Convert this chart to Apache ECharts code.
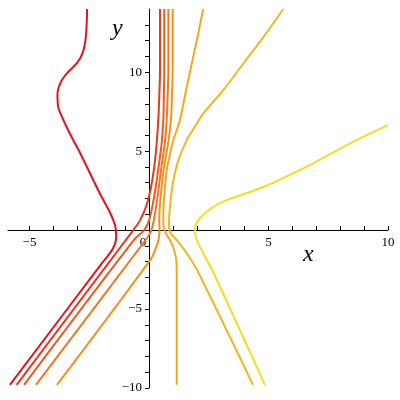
<!DOCTYPE html>
<html>
<head>
<meta charset="utf-8">
<script src="https://cdn.jsdelivr.net/npm/echarts@6/dist/echarts.min.js"></script>
<style>
  html, body { margin: 0; padding: 0; background: #fff; }
  #chart { width: 400px; height: 400px; }
</style>
</head>
<body>
<div id="chart"></div>
<script>
  // contour curves, red -> yellow, points as [x, y]
  var curve1 = [[-2.59, 14], [-2.61, 13], [-2.66, 12], [-2.78, 11.2], [-3.0, 10.6], [-3.39, 10], [-3.68, 9.4], [-3.83, 8.6], [-3.8, 7.8], [-3.65, 7.2], [-3.31, 6.1], [-2.89, 4.9], [-2.47, 3.6], [-2.05, 2.3], [-1.63, 1.1], [-1.42, 0.3], [-1.37, -0.4], [-1.52, -1.2], [-1.92, -2.0], [-5.82, -9.8]]
  var curve2 = [[0.46, 14], [0.46, 10], [0.43, 8.5], [0.39, 7], [0.32, 5.5], [0.22, 4], [0.07, 2.6], [-0.12, 1.5], [-0.38, 0.6], [-0.66, 0], [-1.2, -1.1], [-5.54, -9.8]]
  var curve3 = [[0.64, 14], [0.64, 10], [0.62, 8.5], [0.6, 7], [0.53, 5.5], [0.4, 4], [0.27, 2.6], [0.14, 1.5], [0.0, 0.6], [-0.2, 0], [-0.62, -0.6], [-5.23, -9.8]]
  var curve4 = [[0.81, 14], [0.81, 10], [0.78, 8.5], [0.74, 7], [0.66, 5.5], [0.52, 4], [0.4, 2.6], [0.3, 1.5], [0.2, 0.6], [0.1, 0], [-0.08, -0.5], [-4.73, -9.8]]
  var curve5 = [[0.99, 14], [0.99, 10], [0.96, 8.5], [0.92, 7], [0.8, 5.5], [0.63, 4], [0.52, 2.6], [0.45, 1.5], [0.43, 0.6], [0.44, 0], [0.4, -0.6], [0.27, -1.2], [0.05, -1.9], [-3.85, -9.8]]
  var curve6 = [[2.27, 14], [2.06, 12.45], [1.85, 10.97], [1.58, 9.07], [1.3, 7], [1.0, 5.6], [0.85, 4.6], [0.76, 4], [0.66, 2.6], [0.61, 1.5], [0.6, 0.6], [0.64, 0], [0.95, -0.84], [1.12, -1.7], [1.16, -2.6], [1.16, -9.8]]
  var curve7 = [[5.62, 14], [4.78, 12.2], [3.95, 10.55], [3.11, 8.86], [2.27, 7.38], [1.9, 6.5], [1.58, 5.7], [1.23, 4.43], [1.02, 3.16], [0.9, 1.8], [0.84, 0.6], [0.85, 0], [1.16, -0.63], [1.58, -1.47], [2.0, -2.5], [4.35, -9.8]]
  var curve8 = [[10, 6.65], [8.55, 5.6], [6.87, 4.23], [4.78, 2.73], [3.1, 1.8], [2.41, 1.16], [2.05, 0.6], [1.92, 0], [2.0, -0.63], [2.27, -1.47], [2.7, -2.7], [4.85, -9.8]]

  var curves = [curve1, curve2, curve3, curve4, curve5, curve6, curve7, curve8]
  var colors = ['#e3121c', '#e8381c', '#ec5a1c', '#ef781c', '#f2921c', '#f4a81c', '#f3b61e', '#f7dc1e']

  var xTickValues = [-5, -4, -3, -2, -1, 1, 2, 3, 4, 5, 6, 7, 8, 9, 10]
  var yTickValues = [-10, -9, -8, -7, -6, -5, -4, -3, -2, -1, 1, 2, 3, 4, 5, 6, 7, 8, 9, 10, 11, 12, 13]
  var xLabelValues = [-5, 0, 5, 10]
  var yLabelValues = [-10, -5, 5, 10]

  var font = '"Liberation Serif", "DejaVu Serif", serif'

  function fmt (v) {
    if (v === 0) return '{z|0}'
    return v < 0 ? '\u2212' + (-v) : String(v)
  }

  var series = curves.map(function (pts, i) {
    return {
      type: 'line',
      data: pts,
      smooth: 0.3,
      symbol: 'none',
      clip: true,
      silent: true,
      lineStyle: { color: colors[i], width: 2 }
    }
  })

  var chart = echarts.init(document.getElementById('chart'))
  chart.setOption({
    animation: false,
    backgroundColor: '#fff',
    title: [
      { text: 'x', left: 298, top: 238, textStyle: { fontFamily: font, fontStyle: 'italic', fontWeight: 'normal', fontSize: 24, color: '#000' } },
      { text: 'y', left: 107, top: 12, textStyle: { fontFamily: font, fontStyle: 'italic', fontWeight: 'normal', fontSize: 24, color: '#000' } }
    ],
    grid: { left: 8, right: 12, top: 9, bottom: 12, containLabel: false, outerBoundsMode: 'none' },
    xAxis: {
      type: 'value',
      min: -5.9,
      max: 10,
      position: 'bottom',
      offset: -158, // axis sits on y = 0
      axisLine: { onZero: false, lineStyle: { color: '#000', width: 1 } },
      axisTick: { inside: true, length: 4, customValues: xTickValues, lineStyle: { color: '#000' } },
      axisLabel: {
        customValues: xLabelValues,
        formatter: fmt,
        margin: 6,
        color: '#000',
        fontFamily: font,
        fontSize: 13,
        rich: { z: { fontFamily: font, fontSize: 13, color: '#000', padding: [0, 12, 0, 0] } }
      },
      splitLine: { show: false }
    },
    yAxis: {
      type: 'value',
      min: -10,
      max: 14,
      position: 'left',
      offset: -141, // axis sits on x = 0
      axisLine: { onZero: false, lineStyle: { color: '#000', width: 1 } },
      axisTick: { inside: false, length: 4, customValues: yTickValues, lineStyle: { color: '#000' } },
      axisLabel: {
        customValues: yLabelValues,
        formatter: fmt,
        margin: 7,
        color: '#000',
        fontFamily: font,
        fontSize: 13
      },
      splitLine: { show: false }
    },
    series: series
  })
</script>
</body>
</html>
